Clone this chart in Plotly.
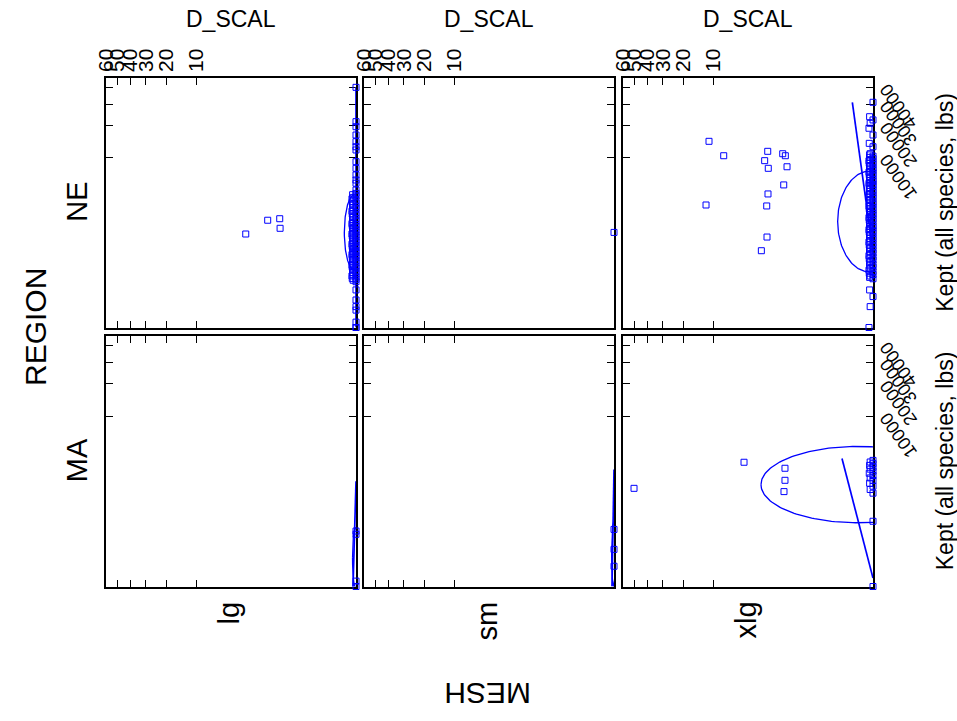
import numpy as np
import plotly.graph_objects as go

W, H = 957, 721

# ---------------- data ----------------
COLS = ["lg", "sm", "xlg"]
ROWS = ["NE", "MA"]
D_TICKS = [10, 20, 30, 40, 50, 60]
K_TICKS = [10000, 20000, 30000, 40000]
D_MAX = 60
K_MAX = 46700

# NE / lg  (4 scattered hauls, then the pile-up at D_SCAL ~ 0)
D_NE_LG = [2.27, 0.934, 0.52, 0.51] + [0.0] * 13 + \
          [0.0, 2e-6, 0.0, 1e-6, 4e-6, 0.0, 3e-6, 0.0, 1e-6, 2e-6, 0.0, 2e-6, 0.0, 1e-6, 4e-6, 0.0,
           3e-6, 0.0, 1e-6, 2e-6, 0.0, 2e-6, 0.0, 1e-6, 4e-6, 0.0, 3e-6, 0.0, 1e-6, 2e-6, 0.0, 2e-6,
           0.0, 1e-6, 4e-6, 0.0, 3e-6, 0.0, 1e-6, 2e-6, 0.0, 2e-6, 0.0, 1e-6, 4e-6, 0.0, 3e-6, 0.0,
           1e-6, 2e-6, 0.0, 2e-6, 0.0, 1e-6, 4e-6, 0.0, 3e-6, 0.0, 1e-6, 2e-6] + [0.0] * 8
K_NE_LG = [921, 1595, 1688, 1167,
           40100, 21630, 19590, 16550, 14370, 12870, 11970, 9110, 7740, 6530, 5705, 5220, 4305,
           3900, 3750, 3600, 3450, 3300, 3150, 3000, 2900, 2800, 2700, 2600, 2500, 2400, 2300, 2200,
           2100, 2000, 1920, 1850, 1770, 1700, 1620, 1550, 1480, 1400, 1350, 1300, 1250, 1200, 1150,
           1100, 1050, 1000, 960, 920, 880, 850, 810, 780, 740, 700, 670, 640, 610, 580, 550, 520,
           490, 470, 440, 420, 400, 380, 360, 340, 320, 300, 285, 270, 255, 240, 225, 210, 195, 180,
           170, 160, 150, 140, 130, 120, 110, 100, 92, 85, 78, 70, 65, 60,
           53, 24, 6.9, 2.3, 1.1, 0.01, 0.0, 0.0]
D_NE_LG = D_NE_LG[:17] + (D_NE_LG[17:-8] * 2)[:len(K_NE_LG) - 25] + [0.0] * 8

# NE / sm
D_NE_SM = [0.0]
K_NE_SM = [985]

# NE / xlg
D_NE_XLG_SCATTER = [11.11, 7.63, 1.887, 1.02, 0.907, 2.115, 1.848, 0.839, 0.976, 1.868, 11.94, 1.959, 1.939, 2.387]
K_NE_XLG_SCATTER = [14480, 10490, 11610, 10990, 10490, 9335, 7740, 8045, 4980, 3835, 2715, 2630, 807, 419]
K_NE_XLG_PILE = [31000, 23800, 22370, 20950, 18990, 16540, 13860, 12870,
                 11000, 10700, 10400, 10100, 9800, 9550, 9300, 9050, 8800, 8550, 8300, 8050, 7800,
                 7600, 7400, 7200, 7000, 6800, 6600, 6400, 6200, 6000, 5800, 5650, 5500, 5350, 5200,
                 5050, 4900, 4750, 4600, 4450, 4300, 4150, 4000, 3870, 3750, 3620, 3500, 3370, 3250,
                 3120, 3000, 2900, 2800, 2700, 2600, 2500, 2400, 2300, 2200, 2120, 2050, 1970, 1900,
                 1820, 1750, 1670, 1600, 1520, 1450, 1370, 1300, 1250, 1200, 1150, 1100, 1050, 1000,
                 950, 900, 850, 800, 760, 720, 680, 640, 600, 560, 520, 490, 460, 430, 400, 370, 345,
                 320, 295, 270, 250, 230, 210, 190, 175, 160, 145, 130, 118, 105, 95, 85, 76, 68,
                 24, 11, 2.3, 0.0]
D_NE_XLG_PILE = ([0.0, 2e-6, 0.0, 1e-6, 4e-6, 0.0, 3e-6, 0.0, 1e-6, 2e-6] * 12)[:len(K_NE_XLG_PILE)]
D_NE_XLG = D_NE_XLG_SCATTER + D_NE_XLG_PILE
K_NE_XLG = K_NE_XLG_SCATTER + K_NE_XLG_PILE

# MA / lg
D_MA_LG = [0.0, 0.0, 0.0, 0.0]
K_MA_LG = [112, 88, 0.01, 0.0]

# MA / sm
D_MA_SM = [0.0, 0.0, 0.0]
K_MA_SM = [126, 22.5, 2.0]

# MA / xlg
D_MA_XLG = [4.25, 50.1, 0.922, 0.922, 0.964] + [0.0, 1e-6, 0.0, 2e-6, 0.0, 1e-6, 0.0, 3e-6, 0.0, 1e-6,
                                                0.0, 2e-6, 0.0, 1e-6, 0.0, 0.0, 0.0]
K_MA_XLG = [2826, 1101, 2318, 1508, 962,
            3000, 2850, 2700, 2550, 2400, 2250, 2100, 1950, 1800, 1650, 1500, 1350, 1200, 1050,
            900, 215, 0.0]
D_MA_XLG = D_MA_XLG[:len(K_MA_XLG)]

POINTS = {
    ("NE", "lg"): (D_NE_LG, K_NE_LG),
    ("NE", "sm"): (D_NE_SM, K_NE_SM),
    ("NE", "xlg"): (D_NE_XLG, K_NE_XLG),
    ("MA", "lg"): (D_MA_LG, K_MA_LG),
    ("MA", "sm"): (D_MA_SM, K_MA_SM),
    ("MA", "xlg"): (D_MA_XLG, K_MA_XLG),
}

# fitted lines: endpoints (D_SCAL, Kept)
LINES = {
    ("NE", "lg"): [(0.0, 40300), (0.0, 0.0)],
    ("NE", "xlg"): [(0.0028, 31000), (0.0, 392)],
    ("MA", "lg"): [(0.0, 1450), (1.2e-6, 0.0)],
    ("MA", "sm"): [(0.0, 2217), (2.5e-7, 0.0)],
    ("MA", "xlg"): [(0.0142, 3185), (0.0, 0.06)],
}

# ellipses in root-scale units: (center x, center y, semi-axis x, semi-axis y)
ELLIPSES = {
    ("NE", "lg"): (0.019, 5.60, 0.111, 2.21),
    ("NE", "xlg"): (0.0334, 6.245, 0.36, 2.975),
    ("MA", "lg"): (0.0056, 1.68, 0.033, 1.77),
    ("MA", "sm"): (0.004, 1.9, 0.022, 1.9),
    ("MA", "xlg"): (0.167, 5.98, 1.08, 2.24),
}

# ---------------- layout geometry (pixels) ----------------
COL_PX = [(106, 356), (364, 614), (623, 873)]
ROW_PX = [(78, 327.5), (336, 586.5)]

BLUE = "#0000FF"
FONT = "Liberation Sans, Arial, sans-serif"


def root(v):
    return np.power(np.asarray(v, dtype=float), 0.25)


fig = go.Figure()
layout = {}
for r, row in enumerate(ROWS):
    for c, col in enumerate(COLS):
        n = r * 3 + c + 1
        xa = "x" if n == 1 else f"x{n}"
        ya = "y" if n == 1 else f"y{n}"
        key = (row, col)
        if key in ELLIPSES:
            cx, cy, rx, ry = ELLIPSES[key]
            th = np.linspace(0, 2 * np.pi, 200)
            fig.add_trace(go.Scatter(x=cx + rx * np.cos(th), y=cy + ry * np.sin(th), mode="lines",
                                     line=dict(color=BLUE, width=1.3), xaxis=xa, yaxis=ya,
                                     showlegend=False, hoverinfo="skip"))
        if key in LINES:
            (d0, k0), (d1, k1) = LINES[key]
            fig.add_trace(go.Scatter(x=root([d0, d1]), y=root([k0, k1]), mode="lines",
                                     line=dict(color=BLUE, width=1.7), xaxis=xa, yaxis=ya,
                                     showlegend=False, hoverinfo="skip"))
        d, k = POINTS[key]
        fig.add_trace(go.Scatter(x=root(d), y=root(k), mode="markers",
                                 marker=dict(symbol="square-open", size=6, color=BLUE,
                                             line=dict(width=1, color=BLUE)),
                                 cliponaxis=False, xaxis=xa, yaxis=ya, showlegend=False))

        x0, x1 = COL_PX[c]
        y0, y1 = ROW_PX[r]
        xkey = "xaxis" if n == 1 else f"xaxis{n}"
        ykey = "yaxis" if n == 1 else f"yaxis{n}"
        layout[xkey] = dict(
            domain=[x0 / W, x1 / W], anchor=ya, range=[D_MAX ** 0.25, 0],
            tickvals=list(root(D_TICKS)), ticktext=[str(t) for t in D_TICKS],
            ticks="inside", ticklen=7, tickwidth=1.2, tickcolor="black",
            showline=True, linecolor="black", linewidth=1.5, mirror="ticks",
            showgrid=False, zeroline=False, automargin=False, layer="below traces",
            side="top", showticklabels=(r == 0), tickangle=-90,
            tickfont=dict(family=FONT, size=21, color="black"),
        )
        layout[ykey] = dict(
            domain=[1 - y1 / H, 1 - y0 / H], anchor=xa, range=[0, K_MAX ** 0.25],
            tickvals=list(root(K_TICKS)), ticktext=[str(t) for t in K_TICKS],
            ticks="inside", ticklen=7, tickwidth=1.2, tickcolor="black",
            showline=True, linecolor="black", linewidth=1.5, mirror="ticks",
            showgrid=False, zeroline=False, automargin=False, layer="below traces",
            side="right", showticklabels=(c == 2), tickangle=-125,
            ticklabelstandoff=32, ticklabelshift=44,
            tickfont=dict(family=FONT, size=18, color="black"),
        )

ann = []
for c, col in enumerate(COLS):
    cxp = (COL_PX[c][0] + COL_PX[c][1]) / 2
    ann.append(dict(text="D_SCAL", x=cxp / W, y=1 - 19 / H, font=dict(size=23)))
    ann.append(dict(text=col, x=(cxp - 3) / W, y=1 - 600 / H, yanchor="top", textangle=-90,
                    font=dict(size=29)))
for r, row in enumerate(ROWS):
    cyp = (ROW_PX[r][0] + ROW_PX[r][1]) / 2
    ann.append(dict(text=row, x=77 / W, y=1 - (cyp - 1) / H, textangle=-90, font=dict(size=29)))
    ann.append(dict(text="Kept (all species, lbs)", x=945 / W, y=1 - cyp / H, textangle=-90,
                    font=dict(size=23)))
ann.append(dict(text="REGION", x=35 / W, y=1 - 327 / H, textangle=-90, font=dict(size=30)))
ann.append(dict(text="MESH", x=487 / W, y=1 - 694 / H, textangle=180, font=dict(size=30)))
for a in ann:
    a.update(xref="paper", yref="paper", showarrow=False)
    a.setdefault("xanchor", "center")
    a.setdefault("yanchor", "middle")
    a["font"].update(family=FONT, color="black")

fig.update_layout(
    width=W, height=H, margin=dict(l=0, r=0, t=0, b=0, pad=0, autoexpand=False),
    paper_bgcolor="white", plot_bgcolor="white",
    annotations=ann, showlegend=False, **layout,
)
fig.write_html("out.html", config={"displayModeBar": False},
               post_script="document.body.style.margin='0';document.body.style.padding='0';")
